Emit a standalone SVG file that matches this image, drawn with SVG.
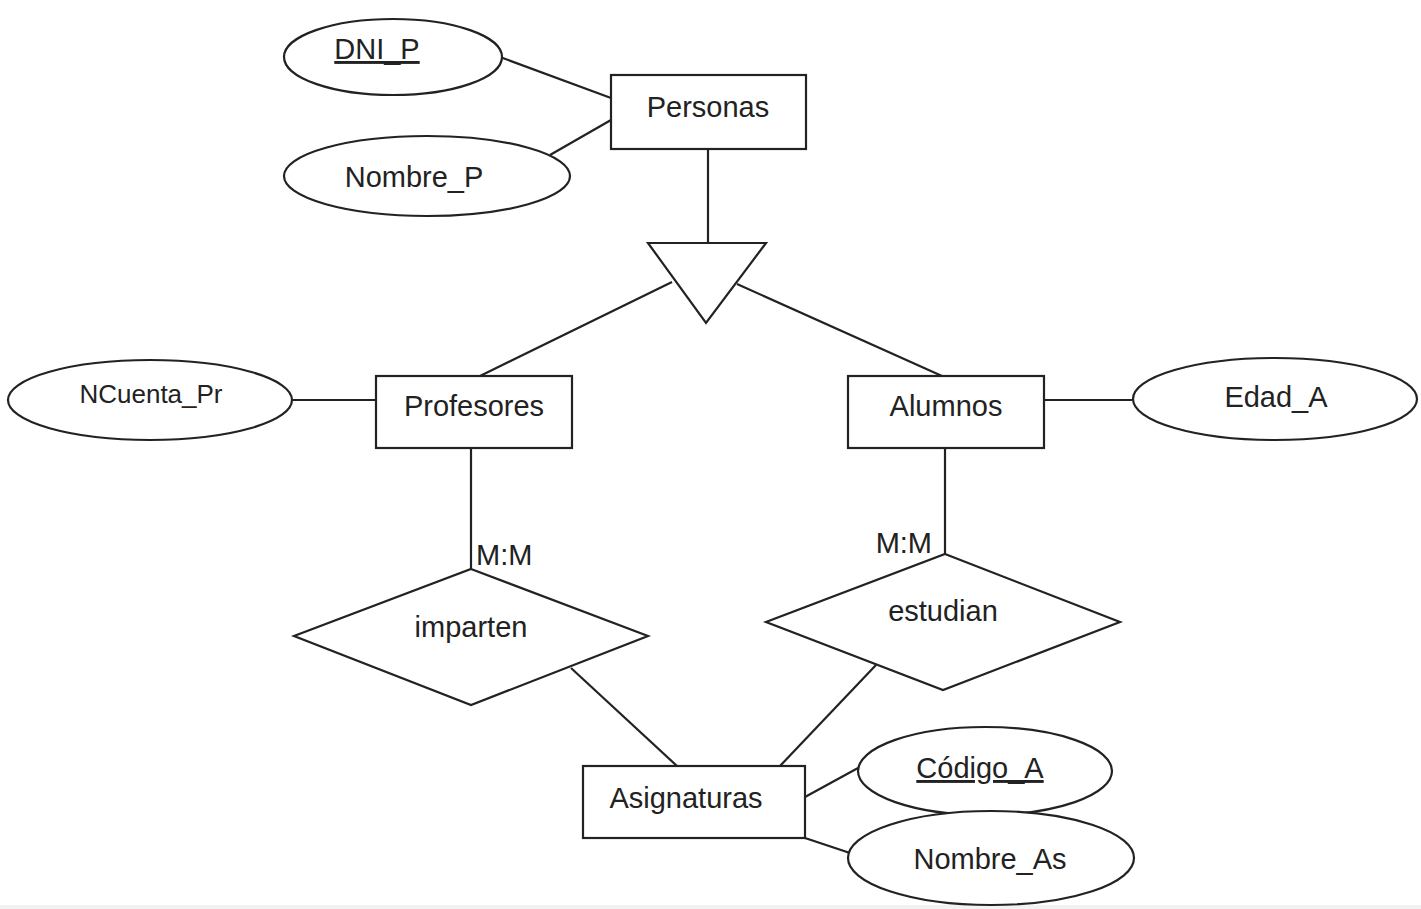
<svg xmlns="http://www.w3.org/2000/svg" width="1421" height="909" viewBox="0 0 1421 909">
  <style>
    .shape { fill: #ffffff; stroke: #222222; stroke-width: 2.2; }
    .link { stroke: #222222; stroke-width: 2.2; fill: none; }
    .label { font-family: "Liberation Sans", Arial, sans-serif; font-size: 29px; fill: #222222; text-anchor: middle; }
    .small { font-size: 26px; }
    .key { text-decoration: underline; }
  </style>
  <rect x="0" y="0" width="1421" height="909" fill="#ffffff"/>
  <rect x="0" y="905" width="1421" height="4" fill="#f2f2f2"/>

  <!-- connectors -->
  <g id="connectors">
    <line class="link" x1="500" y1="57" x2="611" y2="98"/>
    <line class="link" x1="550" y1="155" x2="611" y2="120"/>
    <line class="link" x1="708" y1="149" x2="708" y2="243"/>
    <line class="link" x1="672" y1="282" x2="480" y2="376"/>
    <line class="link" x1="737" y1="284" x2="942" y2="376"/>
    <line class="link" x1="293" y1="400" x2="376" y2="400"/>
    <line class="link" x1="1044" y1="400" x2="1132" y2="400"/>
    <line class="link" x1="471" y1="448" x2="471" y2="569"/>
    <line class="link" x1="945" y1="448" x2="945" y2="554"/>
    <line class="link" x1="571" y1="668" x2="677" y2="766"/>
    <line class="link" x1="876" y1="665" x2="780" y2="766"/>
    <line class="link" x1="805" y1="797" x2="858" y2="768"/>
    <line class="link" x1="805" y1="838" x2="850" y2="853"/>
    <text class="label" x="476" y="565" text-anchor="start" style="text-anchor:start">M:M</text>
    <text class="label" x="932" y="553" style="text-anchor:end">M:M</text>
  </g>

  <!-- ISA triangle -->
  <g id="isa">
    <polygon class="shape" points="648,243 766,243 706,323"/>
  </g>

  <!-- entities -->
  <g id="personas">
    <rect class="shape" x="611" y="75" width="195" height="74"/>
    <text class="label" x="708" y="117">Personas</text>
  </g>
  <g id="profesores">
    <rect class="shape" x="376" y="376" width="196" height="72"/>
    <text class="label" x="474" y="416">Profesores</text>
  </g>
  <g id="alumnos">
    <rect class="shape" x="848" y="376" width="196" height="72"/>
    <text class="label" x="946" y="416">Alumnos</text>
  </g>
  <g id="asignaturas">
    <rect class="shape" x="583" y="766" width="222" height="72"/>
    <text class="label" x="686" y="808">Asignaturas</text>
  </g>

  <!-- relationships -->
  <g id="imparten">
    <polygon class="shape" points="471,569 648,636 471,705 294,636"/>
    <text class="label" x="471" y="637">imparten</text>
  </g>
  <g id="estudian">
    <polygon class="shape" points="945,554 1120,622 943,690 766,622"/>
    <text class="label" x="943" y="621">estudian</text>
  </g>

  <!-- attributes -->
  <g id="dni_p">
    <ellipse class="shape" cx="393" cy="57" rx="109" ry="38"/>
    <text class="label key" x="377" y="59">DNI_P</text>
  </g>
  <g id="nombre_p">
    <ellipse class="shape" cx="427" cy="176" rx="143" ry="40"/>
    <text class="label" x="414" y="187">Nombre_P</text>
  </g>
  <g id="ncuenta_pr">
    <ellipse class="shape" cx="150" cy="400" rx="142" ry="40"/>
    <text class="label small" x="151" y="403">NCuenta_Pr</text>
  </g>
  <g id="edad_a">
    <ellipse class="shape" cx="1275" cy="399" rx="142" ry="41"/>
    <text class="label" x="1276" y="407">Edad_A</text>
  </g>
  <g id="codigo_a">
    <ellipse class="shape" cx="985" cy="771" rx="127" ry="44"/>
    <text class="label key" x="980" y="778">Código_A</text>
  </g>
  <g id="nombre_as">
    <ellipse class="shape" cx="991" cy="858" rx="143" ry="47"/>
    <text class="label" x="990" y="869">Nombre_As</text>
  </g>
</svg>
